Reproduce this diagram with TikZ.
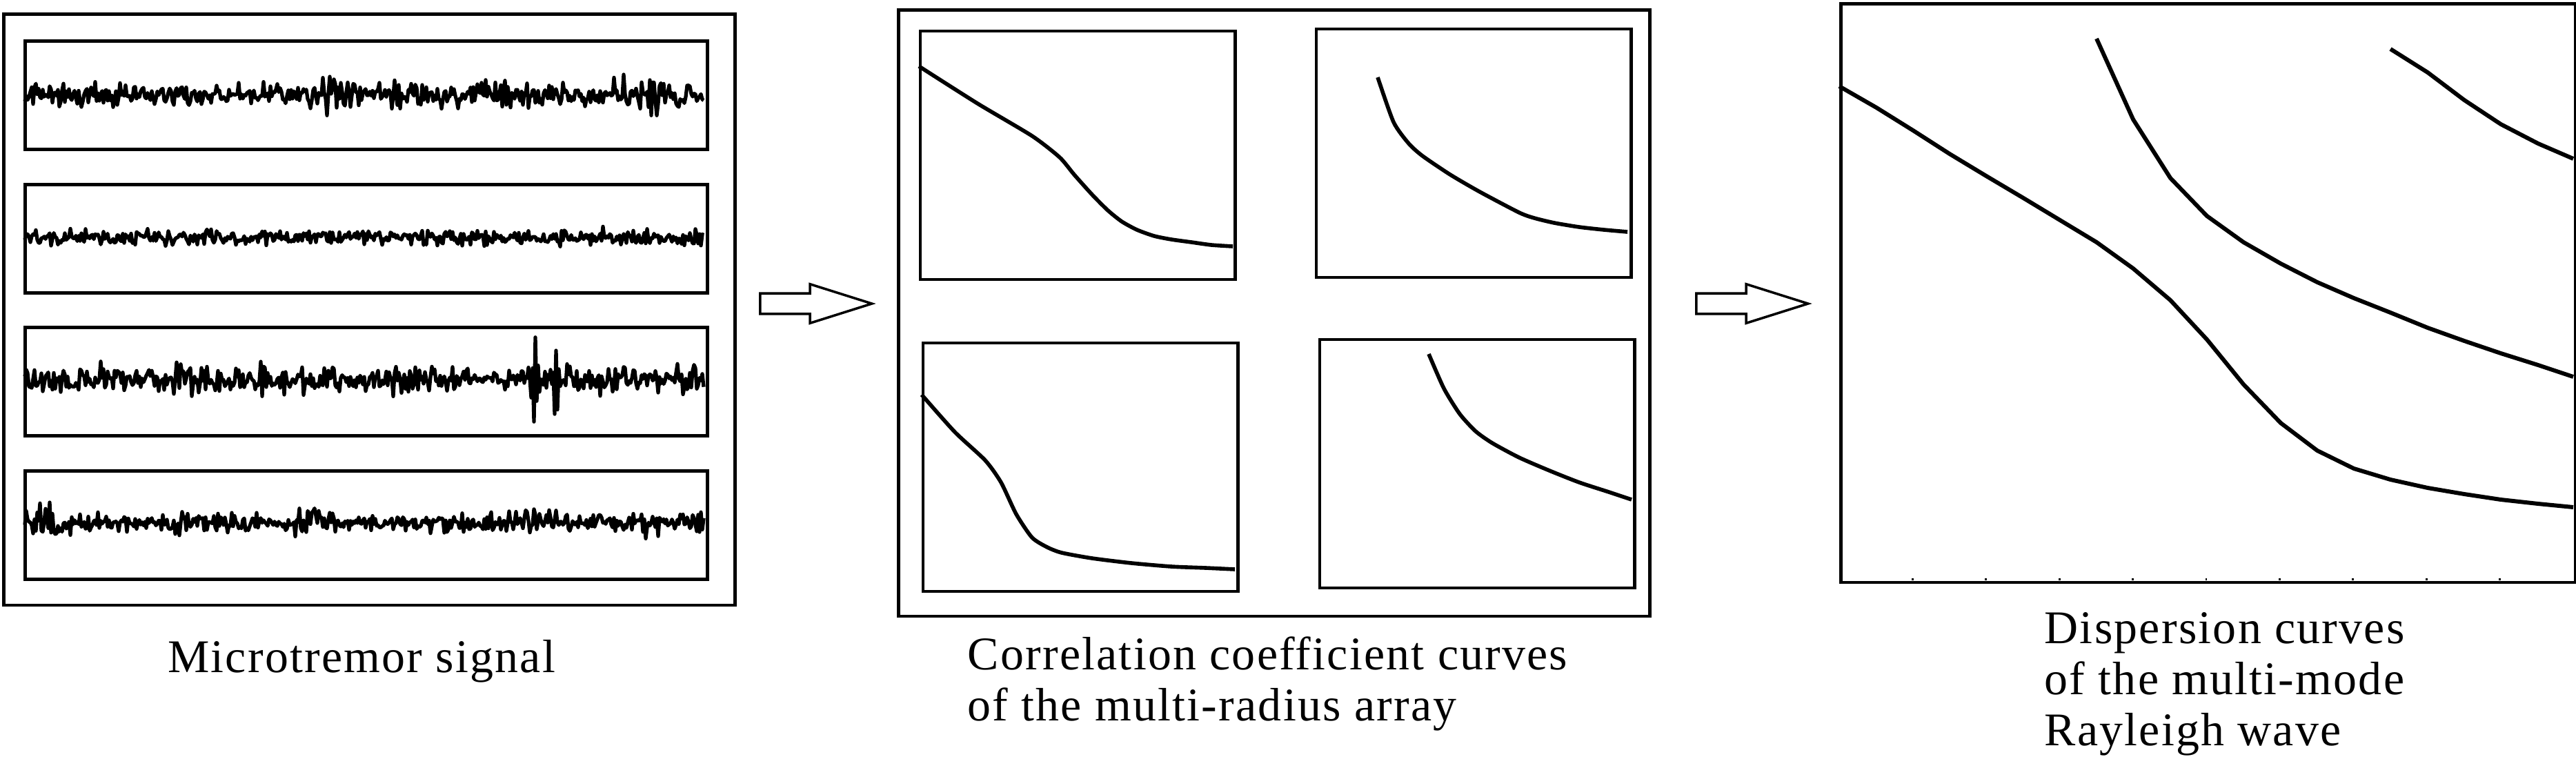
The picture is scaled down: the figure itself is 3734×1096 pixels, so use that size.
\documentclass[tikz,border=0pt]{standalone}
\usepackage{fontspec}
\setmainfont{Liberation Serif}[LetterSpace=3.3]
\usetikzlibrary{shapes.arrows}
\tikzstyle{frame}=[draw, line width=1.4pt, inner sep=0pt, anchor=north west]
\tikzstyle{trace}=[line width=1.5pt, line join=round]
\tikzstyle{curve}=[line width=1.6pt, line join=round]
\tikzstyle{flow}=[single arrow, draw, line width=1pt, minimum height=1.62cm,
  single arrow head extend=0.135cm, single arrow tip angle=35,
  inner xsep=0pt, inner ysep=0.13cm, anchor=tail]
\tikzstyle{caption}=[font=\fontsize{19.3}{21}\selectfont, inner sep=0pt, align=left]

\begin{document}
\begin{tikzpicture}[x=0.01cm, y=-0.01cm]
\useasboundingbox (0,0) rectangle (3734,1096);
\pgfmathsetseed{12}

% Microtremor records
\node[frame, minimum width=10.59cm, minimum height=8.56cm] (sigpanel) at (3,18) {};
\foreach \k/\ytop in {1/57, 2/265, 3/472, 4/680}
  \node[frame, minimum width=9.88cm, minimum height=1.57cm] (sig\k) at (34,\ytop) {};

\draw[trace] plot[domain=36:1020, samples=493]
  (\x, {138 + (rand+rand+rand)/2*(17 + 9*max(0,1-abs(\x-930)/100) + 6*max(0,1-abs(\x-480)/60))});
\draw[trace] plot[domain=36:1020, samples=493]
  (\x, {344 + (rand+rand+rand)/2*11});
\draw[trace] plot[domain=36:1020, samples=493]
  (\x, {550 + (rand+rand+rand)/2*(20 - 10*max(0,1-abs(\x-715)/70))
        - 60*max(0,1-abs(\x-776)/8)*cos(90*mod(\x+224,4))
        - 52*max(0,1-abs(\x-806)/8)*cos(90*mod(\x+194,4))});
\draw[trace] plot[domain=36:1020, samples=493]
  (\x, {757 + (rand+rand+rand)/2*(13 + 28*max(0,1-abs(\x-62)/25) + 15*max(0,1-abs(\x-265)/15)
        + 15*max(0,1-abs(\x-450)/30) + 10*max(0,1-abs(\x-785)/30)
        + 10*max(0,1-abs(\x-940)/20) + 9*max(0,1-abs(\x-1010)/15))});

% Correlation coefficient curves
\node[frame, minimum width=10.88cm, minimum height=8.78cm] (ccpanel) at (1300,12) {};
\foreach \k/\xl/\ytop in {1/1332/43, 2/1906/40, 3/1336/495, 4/1911/490}
  \node[frame, line width=1.2pt, minimum width=4.56cm, minimum height=3.6cm] (cc\k) at (\xl,\ytop) {};

\draw[curve] plot[smooth, tension=0.4] coordinates {(1332,96) (1417,150) (1496,197) (1536,228)
  (1557,253) (1583,282) (1606,305) (1626,321) (1648,333) (1673,342) (1698,347) (1727,351)
  (1756,355) (1787,357)};
\draw[curve] plot[smooth, tension=0.4] coordinates {(1997,112) (2020,177) (2042,208) (2062,226)
  (2102,253) (2145,278) (2202,308) (2224,316) (2253,323) (2289,329) (2325,333) (2359,336)};
\draw[curve] plot[smooth, tension=0.4] coordinates {(1336,572) (1384,626) (1428,667) (1451,699)
  (1473,745) (1496,779) (1518,793) (1539,801) (1583,809) (1640,816) (1698,821) (1748,823)
  (1790,825)};
\draw[curve] plot[smooth, tension=0.4] coordinates {(2071,513) (2093,563) (2116,600) (2139,625)
  (2163,642) (2202,663) (2246,682) (2289,699) (2332,713) (2365,724)};

% Dispersion curves
\node[frame, minimum width=10.64cm, minimum height=8.38cm] (dcpanel) at (2666,3) {};
\foreach \i in {1,...,9} {
  \draw[line width=0.8pt] ({2666+\i*106.4},841) -- ++(0,-3);
  \draw[line width=0.8pt] ({2666+\i*106.4},3) -- ++(0,3);
}
\draw[curve, line width=1.7pt] (2666,125) -- (2720,156) -- (2773,189) -- (2826,223) -- (2879,255)
  -- (2933,287) -- (2986,319) -- (3039,351) -- (3092,389) -- (3146,435) -- (3199,492)
  -- (3252,557) -- (3306,613) -- (3359,653) -- (3412,679) -- (3465,695) -- (3519,707)
  -- (3572,716) -- (3625,724) -- (3679,730) -- (3730,735);
\draw[curve, line width=1.7pt] (3039,56) -- (3092,173) -- (3146,258) -- (3199,313) -- (3252,351)
  -- (3306,382) -- (3359,409) -- (3412,432) -- (3465,453) -- (3519,475) -- (3572,494)
  -- (3625,512) -- (3679,529) -- (3730,546);
\draw[curve, line width=1.7pt] (3465,71) -- (3519,105) -- (3572,145) -- (3625,180) -- (3679,208)
  -- (3730,230);

% Flow arrows
\node[flow] (flow1) at (1100,440) {};
\node[flow] (flow2) at (2457,440) {};

% Captions
\node[caption, anchor=base] (capsig) at (524,974) {Microtremor signal};
\node[caption, anchor=base west] (capcc) at (1402,1044) {Correlation coefficient curves\\of the multi-radius array};
\node[caption, anchor=base west] (capdc) at (2963,1080) {Dispersion curves\\of the multi-mode\\Rayleigh wave};
\end{tikzpicture}
\end{document}
